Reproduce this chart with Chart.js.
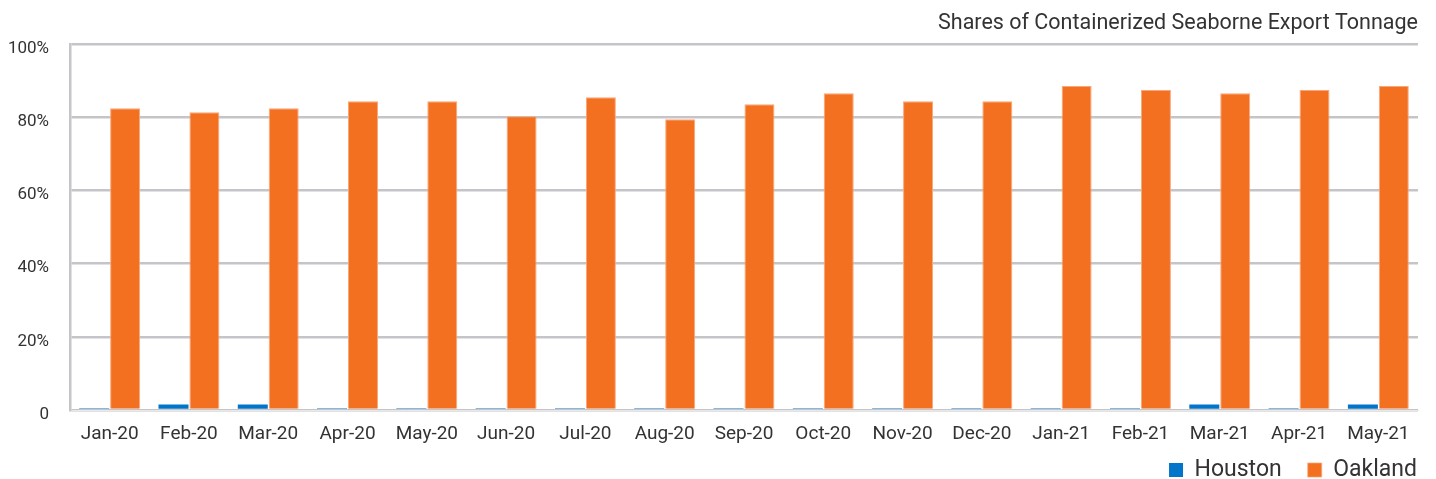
<!DOCTYPE html>
<html>
<head>
<meta charset="utf-8">
<script src="https://cdn.jsdelivr.net/npm/chart.js@4"></script>
<style>
html,body{margin:0;padding:0;background:#fff;}
#wrap{width:1436px;height:479px;}
</style>
</head>
<body>
<div id="wrap"><canvas id="c" width="1436" height="479"></canvas></div>
<script>
const categories = ["Jan-20","Feb-20","Mar-20","Apr-20","May-20","Jun-20","Jul-20","Aug-20","Sep-20","Oct-20","Nov-20","Dec-20","Jan-21","Feb-21","Mar-21","Apr-21","May-21"];
const houston = [0.5,1.5,1.5,0.5,0.5,0.5,0.5,0.5,0.5,0.5,0.5,0.5,0.5,0.5,1.5,0.5,1.5];
const oakland = [82.4,81.3,82.4,84.3,84.3,80.2,85.4,79.4,83.5,86.5,84.3,84.3,88.5,87.4,86.5,87.4,88.5];
const yTicks = [0,20,40,60,80,100];
const titleText = "Shares of Containerized Seaborne Export Tonnage";

Chart.defaults.font.family = "Roboto, 'Liberation Sans', sans-serif";
Chart.defaults.color = "#333333";

const legendShift = {
  id: 'legendShift',
  afterLayout(chart) {
    const l = chart.legend;
    if (!l) return;
    l.left += 25; l.right += 25;
    l.top -= 13.5;
  }
};

new Chart(document.getElementById('c'), {
  type: 'bar',
  data: {
    labels: categories,
    datasets: [
      {label: 'Houston', data: houston, backgroundColor: '#0075c9', borderWidth: 0},
      {label: 'Oakland', data: oakland, backgroundColor: '#f37021', borderColor: '#f9a77a', borderWidth: {top:1,left:1,right:1,bottom:0}}
    ]
  },
  plugins: [legendShift],
  options: {
    responsive: false,
    animation: false,
    layout: {padding: {left: 0, right: 18, top: 0, bottom: -26}},
    datasets: {bar: {categoryPercentage: 0.78, barPercentage: 0.97}},
    plugins: {
      title: {display: true, text: titleText, align: 'end', font: {size: 21.5, weight: 'normal'}, color: '#333', padding: {top: 11, bottom: 7}},
      legend: {position: 'bottom', align: 'end', labels: {boxWidth: 14, boxHeight: 14, padding: 26, font: {size: 23}, color: '#333'}},
      tooltip: {enabled: false}
    },
    scales: {
      x: {
        afterFit: (axis) => { axis.height = 36; },
        grid: {display: false, drawTicks: false},
        border: {display: true, color: '#e8e8e8', width: 1},
        ticks: {font: {size: 19}, color: '#333', padding: 12.5, maxRotation: 0, autoSkip: false}
      },
      y: {
        min: 0, max: 100,
        afterBuildTicks: (axis) => { axis.ticks = yTicks.map(v => ({value: v})); },
        afterFit: (axis) => { axis.width = 70; },
        grid: {color: '#c5c5c9', lineWidth: 2.5, drawTicks: false},
        border: {display: true, color: '#c5c5c9', width: 2.5},
        ticks: {font: {size: 17}, color: '#333', padding: 21, labelOffset: 4.5, callback: (v) => v === 0 ? '0' : v + '%'}
      }
    }
  }
});
</script>
</body>
</html>
